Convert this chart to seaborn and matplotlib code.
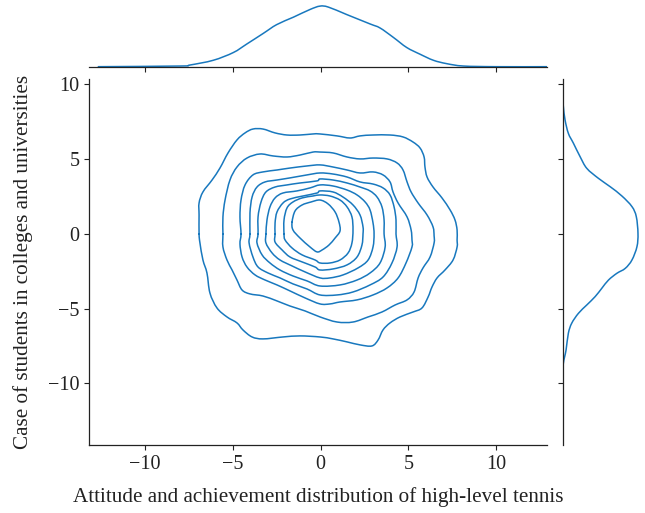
import numpy as np
import matplotlib
matplotlib.use("Agg")
import matplotlib.pyplot as plt
from matplotlib.path import Path
from matplotlib.patches import PathPatch
import seaborn as sns

# Iso-density contour lines of the joint KDE (outermost first), in data units
c1_x = [-6.92, -6.92, -6.92, -6.70, -6.18, -5.73, -5.27, -4.76, -4.30, -3.85, -3.28, -2.59, -1.91, -1.17,
        -0.43, -0.03, 0.94, 1.68, 2.25, 2.99, 3.96, 4.70, 5.27, 5.67, 5.90, 5.95, 6.07, 6.41, 6.92, 7.38,
        7.66, 7.78, 7.78, 7.78, 7.55, 7.09, 6.64, 6.35, 6.13, 5.78, 5.27, 4.53, 3.96, 3.56, 3.28, 2.93,
        2.25, 1.51, 0.71, -0.03, -1.17, -2.14, -3.28, -3.90, -4.42, -4.76, -5.33, -5.90, -6.30, -6.47,
        -6.70, -6.87]
c1_y = [0.00, 1.27, 2.07, 2.81, 3.61, 4.41, 5.42, 6.29, 6.76, 7.02, 7.02, 6.76, 6.62, 6.62,
        6.69, 6.69, 6.56, 6.42, 6.56, 6.62, 6.62, 6.49, 6.15, 5.75, 5.15, 4.48, 3.81, 3.14, 2.41, 1.61,
        0.94, 0.27, -0.40, -0.87, -1.74, -2.41, -2.94, -3.55, -4.21, -4.95, -5.22, -5.55, -5.95, -6.42,
        -7.09, -7.49, -7.42, -7.22, -7.02, -6.89, -6.82, -6.89, -7.02, -6.89, -6.42, -5.95, -5.55, -4.95,
        -3.95, -2.61, -1.74, -0.60]

c2_x = [-5.56, -5.56, -5.44, -5.16, -4.76, -4.19, -3.45, -2.71, -1.91, -1.17, -0.43, -0.03, 0.71, 1.51,
        2.25, 2.99, 3.79, 4.36, 4.70, 4.93, 5.16, 5.56, 6.07, 6.41, 6.47, 6.47, 6.24, 5.84, 5.56, 5.33,
        4.93, 4.25, 3.50, 2.71, 1.85, 0.94, -0.03, -0.88, -1.74, -2.48, -3.28, -4.02, -4.47, -4.76, -5.04,
        -5.33, -5.56]
c2_y = [0.00, 1.14, 2.27, 3.61, 4.48, 5.08, 5.35, 5.22, 5.15, 5.28, 5.48, 5.48, 5.42, 5.15,
        5.02, 5.08, 5.02, 4.75, 4.28, 3.48, 2.81, 2.07, 1.27, 0.47, -0.13, -0.60, -1.54, -2.27, -2.94,
        -3.88, -4.41, -4.75, -5.22, -5.55, -5.89, -5.89, -5.55, -5.15, -4.82, -4.48, -4.15, -4.01, -3.75,
        -3.08, -2.41, -1.74, -0.87]

c3_x = [-4.53, -4.59, -4.53, -4.30, -3.85, -3.28, -2.48, -1.74, -0.77, -0.03, 0.71, 1.51, 2.25, 2.99,
        3.56, 3.96, 4.13, 4.42, 4.93, 5.16, 5.21, 5.21, 4.87, 4.42, 3.79, 2.99, 2.08, 1.11, 0.54, -0.03,
        -0.88, -1.74, -2.48, -3.16, -3.73, -4.19, -4.47, -4.59]
c3_y = [0.00, 1.14, 2.27, 3.28, 3.95, 4.15, 4.28, 4.41, 4.55, 4.62, 4.48, 4.28, 4.08, 4.15,
        3.95, 3.48, 2.81, 2.07, 1.14, 0.27, -0.40, -0.87, -1.94, -2.94, -3.61, -4.08, -4.41, -4.55, -4.68,
        -4.68, -4.28, -3.81, -3.41, -3.08, -2.74, -2.21, -1.54, -0.67]

c4_x = [-4.02, -4.02, -3.90, -3.62, -3.16, -2.48, -1.74, -0.77, -0.03, 0.71, 1.51, 2.25, 2.99, 3.56,
        3.96, 4.19, 4.30, 4.30, 4.36, 4.07, 3.56, 2.82, 1.85, 0.94, -0.03, -0.77, -1.57, -2.31, -2.99,
        -3.56, -3.85, -4.07]
c4_y = [0.00, 1.40, 2.47, 3.14, 3.48, 3.61, 3.75, 3.95, 4.08, 4.01, 3.81, 3.48, 3.34, 3.08,
        2.61, 1.81, 0.94, 0.00, -0.87, -1.94, -2.88, -3.41, -3.88, -4.08, -4.08, -3.68, -3.34, -2.94,
        -2.61, -2.21, -1.54, -0.60]

c5_x = [-3.56, -3.56, -3.39, -3.11, -2.59, -1.91, -1.17, -0.20, -0.03, 0.71, 1.51, 2.25, 2.82, 3.22,
        3.50, 3.62, 3.62, 3.68, 3.39, 2.82, 2.08, 1.11, -0.03, -0.77, -1.57, -2.31, -2.88, -3.33, -3.62]
c5_y = [0.00, 1.14, 2.14, 2.81, 3.14, 3.28, 3.41, 3.55, 3.68, 3.61, 3.41, 3.14, 2.88, 2.47,
        1.81, 0.94, 0.00, -0.87, -1.94, -2.61, -3.08, -3.41, -3.48, -3.14, -2.81, -2.41, -1.94, -1.40, -0.60]

c6_x = [-3.11, -3.05, -2.88, -2.59, -2.14, -1.34, -0.60, -0.03, 0.71, 1.51, 2.08, 2.54, 2.82, 2.99,
        3.05, 2.99, 2.71, 2.14, 1.28, 0.54, -0.03, -0.88, -1.62, -2.31, -2.76, -3.11]
c6_y = [0.00, 0.94, 1.81, 2.41, 2.74, 2.88, 3.08, 3.28, 3.21, 2.94, 2.61, 2.14, 1.61, 0.74,
        0.00, -0.87, -1.74, -2.27, -2.74, -2.94, -2.94, -2.54, -2.14, -1.74, -1.27, -0.60]

c7_x = [-2.59, -2.59, -2.48, -2.14, -1.74, -1.00, -0.20, -0.03, 0.71, 1.28, 1.85, 2.25, 2.42, 2.42,
        2.36, 2.08, 1.51, 0.71, -0.03, -0.31, -1.05, -1.74, -2.19, -2.59]
c7_y = [0.00, 0.74, 1.47, 2.07, 2.34, 2.54, 2.74, 2.88, 2.81, 2.47, 1.94, 1.27, 0.47, 0.00,
        -0.74, -1.54, -2.07, -2.34, -2.41, -2.21, -1.87, -1.54, -1.07, -0.54]

c8_x = [-2.08, -2.08, -1.91, -1.57, -1.05, -0.43, -0.03, 0.54, 1.11, 1.51, 1.79, 1.85, 1.79, 1.57,
        1.11, 0.54, -0.03, -0.31, -1.05, -1.62, -2.02]
c8_y = [0.00, 0.94, 1.74, 2.14, 2.41, 2.54, 2.61, 2.54, 2.27, 1.81, 1.14, 0.27, -0.60, -1.27,
        -1.74, -1.94, -1.94, -1.74, -1.40, -0.94, -0.40]

c9_x = [-1.62, -1.45, -1.05, -0.54, -0.03, 0.43, 0.83, 1.05, 1.11, 0.83, 0.48, 0.09, -0.20, -0.60,
        -1.17, -1.57]
c9_y = [0.80, 1.54, 1.94, 2.14, 2.27, 2.01, 1.47, 0.80, 0.20, -0.27, -0.74, -1.07, -1.20, -0.87,
        -0.27, 0.27]

contour_levels = [(c1_x, c1_y), (c2_x, c2_y), (c3_x, c3_y), (c4_x, c4_y), (c5_x, c5_y),
                  (c6_x, c6_y), (c7_x, c7_y), (c8_x, c8_y), (c9_x, c9_y)]

# Marginal density of the x variable
top_x = [-12.66, -8.01, -7.44, -6.11, -4.97, -4.21, -3.26, -2.50, -1.55, -0.60, -0.03, 0.45, 1.49,
         2.82, 3.39, 4.15, 4.91, 5.67, 6.43, 7.19, 8.14, 10.04, 12.89]
top_density = [0.0, 0.0013, 0.0033, 0.0127, 0.028, 0.0447, 0.066, 0.0833, 0.098, 0.1133, 0.12, 0.118,
               0.1033, 0.0847, 0.0767, 0.058, 0.038, 0.0247, 0.0127, 0.006, 0.0013, 0.0, 0.0]

# Marginal density of the y variable
right_y = [10.3, 9.18, 8.52, 7.63, 6.73, 6.07, 5.17, 4.39, 3.72, 3.16, 2.54, 1.83, 1.16, 0.04, -0.85,
           -1.74, -2.30, -2.63, -3.08, -3.63, -4.19, -4.75, -5.31, -5.97, -6.64, -7.76, -8.65, -9.54,
           -14.0]
right_density = [0.0, 0.0, 0.0011, 0.0039, 0.0094, 0.0178, 0.0289, 0.04, 0.0594, 0.0789, 0.0983, 0.115,
                 0.1222, 0.125, 0.1233, 0.115, 0.1039, 0.09, 0.0761, 0.065, 0.0539, 0.04, 0.0261,
                 0.015, 0.0094, 0.0056, 0.0011, 0.0, 0.0]

x_ticks = [-10, -5, 0, 5, 10]
y_ticks = [-10, -5, 0, 5, 10]
x_label = "Attitude and achievement distribution of high-level tennis"
y_label = "Case of students in colleges and universities"

sns.set_style("ticks")
plt.rcParams["font.family"] = ["Liberation Serif", "DejaVu Serif"]
plt.rcParams["axes.linewidth"] = 0.9
plt.rcParams["xtick.major.size"] = 3.5
plt.rcParams["ytick.major.size"] = 3.5
plt.rcParams["xtick.major.width"] = 0.8
plt.rcParams["ytick.major.width"] = 0.8
plt.rcParams["xtick.direction"] = "out"
plt.rcParams["ytick.direction"] = "out"

LINE = "#1878be"
LW = 1.1
INK = "#222222"


def smooth_curve(xs, ys, closed):
    """Catmull-Rom curve through the given vertices, as cubic Bezier segments."""
    pts = np.column_stack([xs, ys]).astype(float)
    n = len(pts)
    if closed:
        prev = np.roll(pts, 1, axis=0)
        nxt = np.roll(pts, -1, axis=0)
        nxt2 = np.roll(pts, -2, axis=0)
        idx = range(n)
    else:
        prev = np.vstack([pts[:1], pts[:-1]])
        nxt = np.vstack([pts[1:], pts[-1:]])
        nxt2 = np.vstack([pts[2:], pts[-1:], pts[-1:]])
        idx = range(n - 1)
    verts = [pts[0]]
    codes = [Path.MOVETO]
    for i in idx:
        p1 = pts[i]
        p2 = nxt[i]
        c1 = p1 + (p2 - prev[i]) / 6.0
        c2 = p2 - (nxt2[i] - p1) / 6.0
        verts += [c1, c2, p2]
        codes += [Path.CURVE4] * 3
    return Path(np.array(verts), codes)


def draw_curve(axis, xs, ys, closed=False):
    axis.add_patch(PathPatch(smooth_curve(xs, ys, closed), fill=False,
                             edgecolor=LINE, linewidth=LW, capstyle="round", joinstyle="round"))


fig = plt.figure(figsize=(6.45, 5.13), dpi=100)
ax = fig.add_axes([0.138, 0.1316, 0.710, 0.7145])
ax_top = fig.add_axes([0.138, 0.870, 0.710, 0.124], sharex=ax)
ax_right = fig.add_axes([0.8724, 0.1316, 0.1225, 0.7145], sharey=ax)

for cx, cy in contour_levels:
    draw_curve(ax, cx, cy, closed=True)

draw_curve(ax_top, top_x, top_density)
draw_curve(ax_right, right_density, right_y)

ax.set_xlim(-13.19, 12.9)
ax.set_ylim(-14.15, 10.37)
ax.set_xticks(x_ticks)
ax.set_yticks(y_ticks)
ax.tick_params(labelsize=14.5, colors=INK, labelcolor=INK)
ax.set_xlabel(x_label, fontsize=15.2, labelpad=9, color=INK)
ax.set_ylabel(y_label, fontsize=15.2, labelpad=10.5, color=INK)
sns.despine(ax=ax)

ax_top.set_ylim(0, 0.126)
ax_top.tick_params(axis="x", labelbottom=False, colors=INK)
ax_top.tick_params(axis="y", left=False, labelleft=False)
sns.despine(ax=ax_top, left=True)

ax_right.set_xlim(0, 0.1312)
ax_right.tick_params(axis="y", labelleft=False, colors=INK)
ax_right.tick_params(axis="x", bottom=False, labelbottom=False)
sns.despine(ax=ax_right, bottom=True)

for a in (ax, ax_top, ax_right):
    for s in a.spines.values():
        s.set_color(INK)

fig.savefig("out.png", dpi=100)
